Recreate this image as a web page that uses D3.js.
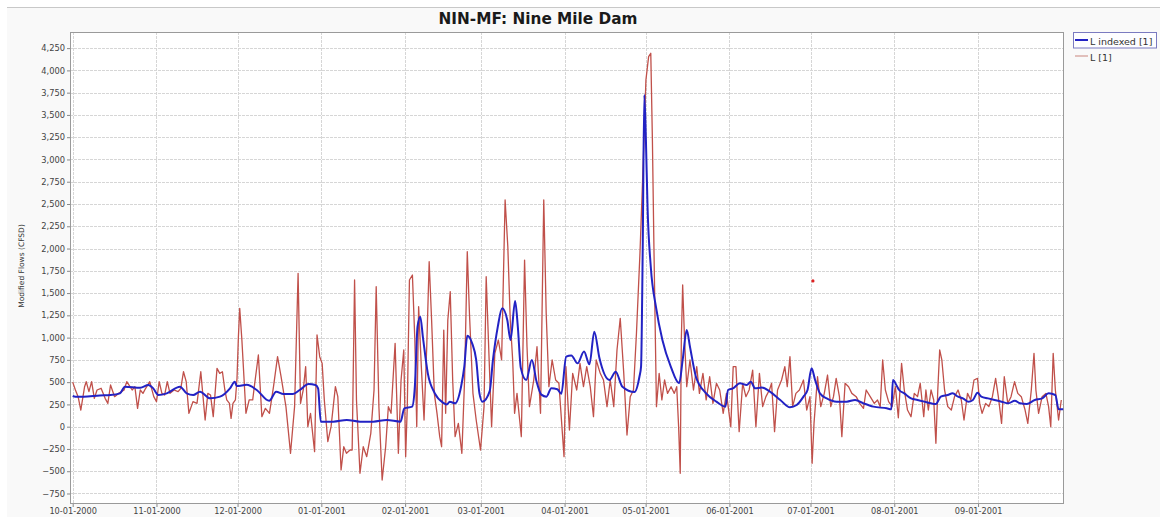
<!DOCTYPE html>
<html>
<head>
<meta charset="utf-8">
<script src="https://cdn.jsdelivr.net/npm/d3@7"></script>
<style>
  body { margin: 0; background: #fff; }
  svg { display: block; font-family: "DejaVu Sans", sans-serif; }
</style>
</head>
<body>
<svg id="chart" width="1160" height="517"></svg>
<script>
const chartTitle = "NIN-MF: Nine Mile Dam";
const yAxisLabel = "Modified Flows (CFSD)";
const seriesNames = ["L indexed [1]", "L [1]"];

const yTickValues = [-750, -500, -250, 0, 250, 500, 750, 1000, 1250, 1500, 1750,
    2000, 2250, 2500, 2750, 3000, 3250, 3500, 3750, 4000, 4250];
const xTickDates = ["2000-10-01", "2000-11-01", "2000-12-01", "2001-01-01", "2001-02-01",
    "2001-03-01", "2001-04-01", "2001-05-01", "2001-06-01", "2001-07-01", "2001-08-01", "2001-09-01"];

// [days since 10-01-2000, flow]
const lFlow = [
    [0,500],[1,412],[2,337],[3,187],[4.4,449],[5,505],[6,393],[7,505],[8,318],[9,412],[10.5,431],[12,318],
    [13,262],[14,468],[15.5,337],[17,374],[19,412],[20,505],[22,412],[23,449],[24,206],[25,412],[26,374],
    [27,431],[28.5,505],[30,337],[31,281],[32,505],[33,374],[34,355],[35,505],[36,374],[37.5,412],[39,393],
    [40,431],[41,617],[42,505],[43,150],[44.5,281],[46,262],[47.4,617],[48,412],[49,75],[50,374],[51,355],
    [52,112],[53.4,655],[54.4,599],[55.4,617],[56.3,412],[57,300],[58,262],[58.6,94],[59.3,262],[60.2,300],
    [60.8,543],[61.3,1000],[61.8,1329],[62.6,973],[64.1,150],[65.3,300],[66.6,300],[67.2,449],[68.7,805],
    [70,112],[71.3,206],[72.8,150],[74.3,449],[75.8,786],[77.1,561],[78.9,225],[80.6,-299],[82.1,225],
    [83.4,1722],[84.3,262],[85.3,412],[86.2,674],[87,0],[88,150],[89.5,-281],[90.4,1030],[91.4,786],
    [92.3,711],[93.1,300],[94.4,-168],[95.6,0],[97.2,449],[98.1,337],[99.3,-486],[100.3,-225],[101.3,-299],
    [102.6,-262],[103.4,-262],[104.3,1647],[105,300],[106.3,-523],[107.5,-225],[108.8,-337],[110.3,-75],
    [111.5,412],[112.3,1572],[113.3,225],[114.5,-599],[115.8,-225],[116.8,225],[117.8,150],[119.3,936],
    [120.5,-299],[121.5,524],[122.5,861],[123.2,-337],[123.8,225],[124.6,1647],[125.7,1703],[126.6,973],
    [127.3,0],[128,1347],[129,674],[130,75],[131,898],[131.9,1852],[132.8,1198],[133.8,374],[134.8,150],
    [135.8,-112],[136.5,-225],[137.3,1085],[138,150],[138.8,1198],[139.7,1516],[140.6,524],[141.5,-112],
    [142.7,37],[144,-299],[145,524],[146,1965],[146.8,1273],[148.1,374],[149.3,75],[150.9,-262],[152.2,225],
    [153,1684],[154,824],[155,0],[156.2,824],[157.5,973],[158.7,749],[160,2545],[161,2021],[161.9,1198],
    [162.8,749],[163.5,150],[164.4,374],[166,-112],[167.2,1871],[168.1,898],[169,225],[170.6,524],[171.8,898],
    [173.1,150],[174.3,2545],[175.2,1273],[176.2,449],[177.4,749],[178.7,524],[179.9,487],[181.2,-75],
    [181.8,-337],[182.5,674],[183.8,-37],[185,599],[186.5,412],[187.7,711],[189,449],[190.2,674],[191.5,449],
    [192.7,112],[193.7,749],[195.2,599],[196.4,524],[197.7,225],[198.9,524],[200.2,225],[201.4,861],
    [202.6,1217],[203.9,599],[205.1,-94],[206.3,337],[207.5,412],[208.6,1048],[209.9,1947],[211.1,2957],
    [212.1,3892],[213.1,4154],[213.9,4192],[214.5,3218],[215.1,1947],[216,225],[217,599],[218,300],[219,524],
    [220.1,374],[221.4,449],[222.6,374],[223.5,449],[224.2,0],[224.8,-523],[225.2,973],[225.7,1591],
    [226.4,973],[227.2,449],[228.4,749],[229.7,412],[230.9,674],[231.9,374],[233.2,599],[234.4,300],
    [235.7,561],[236.9,262],[238.2,487],[239.4,412],[240.7,150],[241.9,374],[243.5,0],[244.4,674],[245.4,674],
    [246.6,-56],[247.9,487],[249.1,337],[250.3,412],[251.6,636],[252.8,0],[254.1,599],[255.3,225],[256.5,337],
    [257.8,412],[258.6,487],[259.7,-56],[260.8,412],[262.3,524],[263.5,674],[264.4,449],[265.4,786],
    [266.4,225],[267.6,374],[268.9,412],[270.4,524],[271.6,187],[272.8,337],[273.6,-411],[274.3,37],
    [275.6,561],[276.8,225],[278.1,374],[279.3,580],[280.5,225],[281.5,337],[282.5,543],[283.7,337],
    [284.6,-112],[285.8,487],[287.1,449],[288.3,374],[289.9,337],[291.2,262],[292.6,206],[293.6,412],
    [295.1,337],[296.6,262],[297.8,300],[298.8,225],[299.7,749],[300.7,412],[301.9,281],[303.2,225],
    [304.4,450],[305.5,100],[306.7,711],[307.7,412],[308.9,187],[310.2,112],[311.4,374],[312.6,337],
    [313.6,487],[314.9,112],[315.7,412],[316.6,187],[317.6,412],[318.6,300],[319.4,-187],[320.1,412],
    [320.8,861],[321.6,749],[322.6,412],[323.8,225],[325.1,187],[326.3,337],[327.6,412],[328.8,300],
    [329.8,75],[331.1,374],[332.3,300],[333.5,524],[334.8,543],[335.6,262],[336.5,150],[337.8,262],[339,225],
    [340.3,337],[341.5,543],[342.5,337],[343.7,37],[344.7,561],[346,262],[347.2,337],[348.5,505],[349.7,374],
    [351,337],[352.4,187],[353.4,37],[354.7,412],[355.7,824],[356.4,412],[357.4,150],[358.7,337],[360.1,374],
    [361.1,225],[361.9,0],[362.8,824],[363.6,412],[364.8,75],[365.8,300]
];

const lIndexedFlow = [
    [0,345],[1,337],[4,337],[10,350],[14,355],[17.5,374],[19.3,449],[25,437],[28,468],[29.8,430],[31.7,356],
    [34.8,374],[39.7,449],[42.2,374],[44.6,356],[47.1,393],[50.8,318],[54.5,337],[58.2,430],[60,505],
    [60.7,456],[64.4,470],[68.1,412],[72.7,290],[75.3,393],[78,368],[81.5,368],[84,412],[87.3,480],
    [89.8,468],[90.8,430],[91.8,56],[96.4,56],[101.4,75],[106.3,56],[111.2,56],[116.2,75],[121.3,56],
    [122.7,206],[125.6,225],[126.6,449],[127.6,1123],[128.6,1235],[129.6,1000],[131.4,599],[134,374],
    [137,270],[138.5,250],[139.5,281],[141.5,262],[143.7,449],[144.9,674],[146,1020],[147.8,936],[149.3,749],
    [150.5,374],[151.6,281],[154.3,400],[155.5,749],[157.3,1123],[158.9,1329],[160.8,1198],[162,973],
    [163.7,1410],[164.7,1123],[165.8,660],[167.8,524],[169.9,749],[171.6,510],[173.4,360],[175.3,337],
    [177.1,431],[179.3,420],[180.8,370],[182.6,786],[184.5,800],[186.8,711],[189.2,843],[191.2,700],
    [193,1067],[194.9,770],[198.6,524],[200.9,617],[203.4,449],[207.9,390],[209.7,561],[210.3,674],
    [210.9,1947],[211.5,3724],[212.1,3218],[212.7,2470],[213.9,1796],[215.8,1347],[218.2,973],[221.3,674],
    [224.4,487],[225.7,749],[227.2,1085],[228.4,898],[230.6,561],[234.4,374],[238.2,281],[241.5,225],
    [242.5,412],[244.3,430],[246.9,487],[249.4,468],[250.9,505],[252.5,431],[255,440],[258,393],[261.8,300],
    [265.4,217],[267.9,243],[270.4,337],[271.9,412],[273.4,655],[274.7,524],[276.5,374],[279,318],
    [282.7,281],[286.4,281],[289.5,300],[292.6,262],[296.3,225],[301.2,206],[302.9,195],[303.5,524],
    [304.9,460],[305.8,412],[307.7,374],[310.2,318],[312.6,300],[315.1,281],[317.6,262],[319.4,255],
    [321.2,337],[323.8,356],[325.6,374],[327.6,337],[329.4,318],[331.3,281],[333.1,300],[334.8,381],
    [336.2,337],[338.7,318],[341.1,300],[343.7,281],[346.2,262],[348.6,292],[350.5,262],[353,255],[356,300],
    [358.7,318],[361.1,374],[363.6,356],[364.8,195],[366.5,195]
];

// lone point of the L [1] series
const strayPoint = [[273.9, 1636]];

const width = 1160, height = 517;
const marginLeft = 70, marginRight = 96, marginTop = 32, marginBottom = 13;

const dayZero = Date.UTC(2000, 9, 1);
const toDate = d => new Date(dayZero + d * 864e5);
const parseDay = d3.utcParse("%Y-%m-%d");

const svg = d3.select("#chart");

svg.append("rect")
    .attr("x", 7).attr("y", 7)
    .attr("width", width - 7).attr("height", height - 7)
    .attr("fill", "#f9f9f9");
svg.append("line")
    .attr("x1", 7).attr("x2", width)
    .attr("y1", 7.5).attr("y2", 7.5)
    .attr("stroke", "#c8c8c8");

const x = d3.scaleUtc()
    .domain([toDate(-1), toDate(366.8)])
    .range([marginLeft, width - marginRight]);

const y = d3.scaleLinear()
    .domain([-868, 4431])
    .range([height - marginBottom, marginTop]);

svg.append("rect")
    .attr("x", marginLeft).attr("y", marginTop)
    .attr("width", width - marginRight - marginLeft)
    .attr("height", height - marginBottom - marginTop)
    .attr("fill", "#fff");

// grid
const grid = svg.append("g").attr("stroke", "#d6d6d6").attr("stroke-dasharray", "3,1");
grid.selectAll(".hg").data(yTickValues).enter().append("line")
    .attr("x1", marginLeft).attr("x2", width - marginRight)
    .attr("y1", d => Math.round(y(d)) + 0.5).attr("y2", d => Math.round(y(d)) + 0.5);
grid.selectAll(".vg").data(xTickDates).enter().append("line")
    .attr("y1", marginTop).attr("y2", height - marginBottom)
    .attr("x1", d => Math.round(x(parseDay(d))) + 0.5)
    .attr("x2", d => Math.round(x(parseDay(d))) + 0.5);

// axes
const yAxis = d3.axisLeft(y)
    .tickValues(yTickValues)
    .tickSize(3).tickPadding(2)
    .tickFormat(d3.format(","));

svg.append("g")
    .attr("transform", `translate(${marginLeft},0)`)
    .call(yAxis)
    .call(g => g.select(".domain").remove())
    .call(g => g.selectAll("line").attr("stroke", "#888"))
    .call(g => g.selectAll("text").attr("font-size", 8.3).attr("fill", "#444")
        .attr("font-family", "DejaVu Sans"));

const xAxis = d3.axisBottom(x)
    .tickValues(xTickDates.map(parseDay))
    .tickSize(3).tickPadding(1.5)
    .tickFormat(d3.utcFormat("%m-%d-%Y"));

svg.append("g")
    .attr("transform", `translate(0,${height - marginBottom})`)
    .call(xAxis)
    .call(g => g.select(".domain").remove())
    .call(g => g.selectAll("line").attr("stroke", "#888"))
    .call(g => g.selectAll("text").attr("font-size", 8.2).attr("fill", "#444")
        .attr("font-family", "DejaVu Sans"));

// plot frame
svg.append("rect")
    .attr("x", marginLeft + 0.5).attr("y", marginTop + 0.5)
    .attr("width", width - marginRight - marginLeft - 1)
    .attr("height", height - marginBottom - marginTop - 1)
    .attr("fill", "none")
    .attr("stroke", "#9a9a9a");

// lines
const line = d3.line()
    .x(d => x(toDate(d[0])))
    .y(d => y(d[1]));

const smoothLine = d3.line()
    .curve(d3.curveMonotoneX)
    .x(d => x(toDate(d[0])))
    .y(d => y(d[1]));

svg.append("clipPath").attr("id", "plotclip")
    .append("rect")
    .attr("x", marginLeft).attr("y", marginTop)
    .attr("width", width - marginRight - marginLeft)
    .attr("height", height - marginBottom - marginTop);

const plotG = svg.append("g").attr("clip-path", "url(#plotclip)");

plotG.append("path")
    .datum(lFlow)
    .attr("fill", "none")
    .attr("stroke", "#c0504a")
    .attr("stroke-width", 1.3)
    .attr("stroke-linejoin", "round")
    .attr("d", line);

plotG.append("path")
    .datum(lIndexedFlow)
    .attr("fill", "none")
    .attr("stroke", "#2222c4")
    .attr("stroke-width", 2)
    .attr("stroke-linejoin", "round")
    .attr("d", smoothLine);

plotG.selectAll(".stray").data(strayPoint).enter().append("circle")
    .attr("cx", d => x(toDate(d[0])))
    .attr("cy", d => y(d[1]))
    .attr("r", 1.6)
    .attr("fill", "#dd2020");

// title
svg.append("text")
    .attr("x", 538).attr("y", 24)
    .attr("text-anchor", "middle")
    .attr("font-size", 15.3)
    .attr("font-weight", "bold")
    .attr("fill", "#1a1a1a")
    .text(chartTitle);

// y label
svg.append("text")
    .attr("transform", "translate(24,266) rotate(-90)")
    .attr("text-anchor", "middle")
    .attr("font-size", 7.5)
    .attr("fill", "#333")
    .text(yAxisLabel);

// legend
const legend = svg.append("g");
legend.append("rect")
    .attr("x", 1073.5).attr("y", 32.5)
    .attr("width", 83).attr("height", 15.5)
    .attr("fill", "#fdfdff")
    .attr("stroke", "#7a7ac0");

const legendColors = ["#2222c4", "#d09890"];
const legendWidths = [2, 1.2];
seriesNames.forEach((name, i) => {
    const cy = 40 + i * 16;
    legend.append("line")
        .attr("x1", 1075).attr("x2", 1088)
        .attr("y1", cy).attr("y2", cy)
        .attr("stroke", legendColors[i])
        .attr("stroke-width", legendWidths[i]);
    legend.append("text")
        .attr("x", 1090).attr("y", cy + 4.5)
        .attr("font-size", 9.5)
        .attr("fill", "#333")
        .text(name);
});
</script>
</body>
</html>
